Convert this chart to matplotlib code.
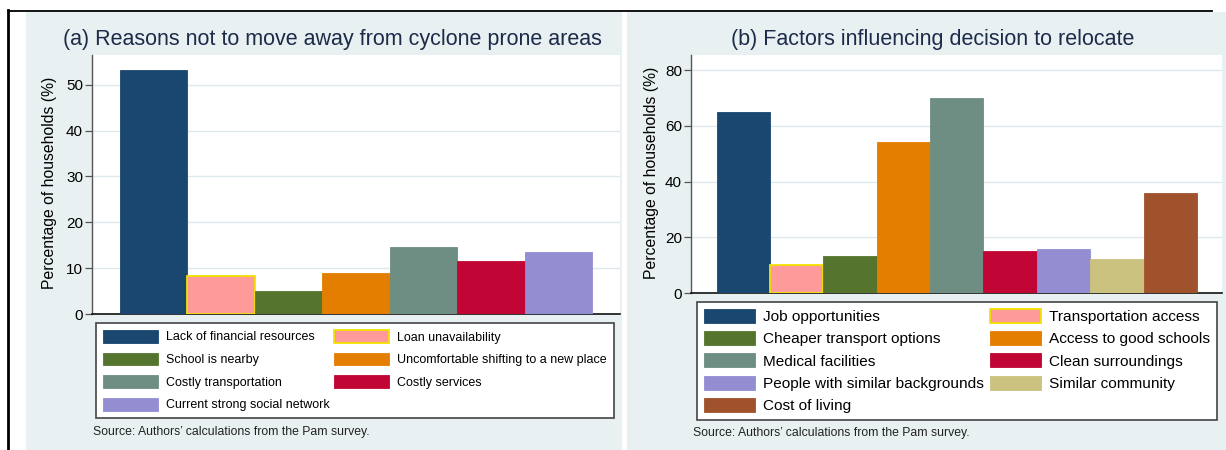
import matplotlib
matplotlib.use("Agg")
import matplotlib.pyplot as plt
from matplotlib.patches import Rectangle, Patch
from matplotlib.lines import Line2D

plt.rcParams['font.family'] = ['Liberation Sans', 'DejaVu Sans']

# ---------------- data ----------------
reasons_a = ["Lack of financial resources", "Loan unavailability", "School is nearby",
             "Uncomfortable shifting to a new place", "Costly transportation",
             "Costly services", "Current strong social network"]
values_a = [53.3, 8.2, 5.1, 9.0, 14.7, 11.6, 13.6]
colors_a = ["#1a476f", "#ff9a9a", "#55752f", "#e37e00", "#6e8e84", "#c10534", "#938dd2"]
yticks_a = [0, 10, 20, 30, 40, 50]

factors_b = ["Job opportunities", "Transportation access", "Cheaper transport options",
             "Access to good schools", "Medical facilities", "Clean surroundings",
             "People with similar backgrounds", "Similar community", "Cost of living"]
values_b = [64.9, 10.1, 13.4, 54.3, 70.0, 15.0, 15.9, 12.3, 36.0]
colors_b = ["#1a476f", "#ff9a9a", "#55752f", "#e37e00", "#6e8e84", "#c10534",
            "#938dd2", "#cac27e", "#a0522d"]
yticks_b = [0, 20, 40, 60, 80]

title_a = "(a) Reasons not to move away from cyclone prone areas"
title_b = "(b) Factors influencing decision to relocate"
ylabel = "Percentage of households (%)"
source = "Source: Authors\u2019 calculations from the Pam survey."

# ---------------- layout helpers (pixels) ----------------
W, H = 1226, 450
fig = plt.figure(figsize=(W / 100, H / 100), dpi=100)
fig.patch.set_facecolor("white")

def fx(px):
    return px / W

def fy(py):
    return 1 - py / H

def rect(x0, y0, x1, y1):
    return [fx(x0), fy(y1), fx(x1) - fx(x0), fy(y0) - fy(y1)]

BG = "#e9f0f2"
GRID = "#dfe8eb"
TITLE_C = "#1c2b4a"

# panel backgrounds (behind the axes)
fig.patches.append(Rectangle((fx(26), fy(450)), fx(622) - fx(26), fy(12) - fy(450),
                             transform=fig.transFigure, facecolor=BG, edgecolor="none", zorder=-5))
fig.patches.append(Rectangle((fx(627), fy(450)), fx(1226) - fx(627), fy(12) - fy(450),
                             transform=fig.transFigure, facecolor=BG, edgecolor="none", zorder=-5))
# frame lines
fig.lines.append(Line2D([fx(8), fx(8)], [fy(10), fy(450)], transform=fig.transFigure,
                        color="black", lw=2.0, zorder=-4))
fig.lines.append(Line2D([fx(8), fx(1212)], [fy(10.5), fy(10.5)], transform=fig.transFigure,
                        color="black", lw=1.3, zorder=-4))


def draw_panel(axrect, names, values, colors, yticks, ylim, xlim, title, title_xy,
               ylabel_xy, leg_box, leg_fs, handlelength, handleheight, labelspacing,
               textpad, borderpad, order, source_xy):
    ax = fig.add_axes(rect(*axrect))
    ax.set_facecolor("white")
    xs = list(range(len(values)))
    bars = ax.bar(xs, values, width=1.0, color=colors, edgecolor=colors, linewidth=0.6, zorder=3)
    for b, n in zip(bars, names):
        b.set_label(n)
    # pink bar has a yellow outline
    bars[1].set_edgecolor("#f2e200")
    bars[1].set_linewidth(1.3)
    ax.set_xlim(*xlim)
    ax.set_ylim(*ylim)
    ax.set_yticks(yticks)
    ax.set_yticklabels([str(t) for t in yticks])
    ax.set_xticks([])
    ax.yaxis.grid(True, color=GRID, lw=1.0, zorder=0)
    ax.set_axisbelow(True)
    for s in ("top", "right"):
        ax.spines[s].set_visible(False)
    ax.spines["left"].set_color("#555555")
    ax.spines["left"].set_linewidth(1.0)
    ax.spines["bottom"].set_color("#111111")
    ax.spines["bottom"].set_linewidth(1.2)
    ax.tick_params(axis="y", length=5, width=0.9, color="#555555", pad=1.5,
                   labelsize=11, labelcolor="black")
    ax.set_ylabel(ylabel, fontsize=11.3, color="black", va="center")
    ax.yaxis.set_label_coords(*ylabel_xy, transform=fig.transFigure)

    fig.text(fx(title_xy[0]), fy(title_xy[1]), title, ha="center", va="center",
             fontsize=15.5, color=TITLE_C)

    handles = [Patch(facecolor=c, edgecolor=("#f2e200" if i == 1 else c),
                     linewidth=(1.3 if i == 1 else 0.6)) for i, c in enumerate(colors)]
    h_ord = [handles[i] for i in order]
    l_ord = [names[i] for i in order]
    x0, y0, x1, y1 = leg_box
    leg = fig.legend(h_ord, l_ord, ncol=2, mode="expand",
                     bbox_to_anchor=(fx(x0), fy(y1), fx(x1) - fx(x0), fy(y0) - fy(y1)),
                     bbox_transform=fig.transFigure, loc="upper left",
                     fontsize=leg_fs, frameon=True, fancybox=False, shadow=False,
                     handlelength=handlelength, handleheight=handleheight,
                     labelspacing=labelspacing, handletextpad=textpad, borderpad=borderpad,
                     borderaxespad=0.0, columnspacing=1.0)
    fr = leg.get_frame()
    fr.set_edgecolor("#444444")
    fr.set_linewidth(1.2)
    fr.set_facecolor("white")
    fr.set_alpha(1.0)

    fig.text(fx(source_xy[0]), fy(source_xy[1]), source, ha="left", va="center",
             fontsize=8.8, color="#222222")
    return ax


draw_panel(axrect=(92, 55, 620, 314), names=reasons_a, values=values_a, colors=colors_a,
           yticks=yticks_a, ylim=(0, 56.5), xlim=(-0.915, 6.91), title=title_a,
           title_xy=(332, 39), ylabel_xy=(fx(50), fy(183)),
           leg_box=(96, 323, 614, 417), leg_fs=9.0, handlelength=4.4, handleheight=1.2,
           labelspacing=0.72, textpad=0.65, borderpad=0.55,
           order=[0, 2, 4, 6, 1, 3, 5], source_xy=(93, 432))

draw_panel(axrect=(691, 55, 1222, 293.3), names=factors_b, values=values_b, colors=colors_b,
           yticks=yticks_b, ylim=(0, 85.4), xlim=(-0.98, 8.97), title=title_b,
           title_xy=(933, 39), ylabel_xy=(fx(652), fy(173)),
           leg_box=(697, 302, 1217, 417), leg_fs=11.1, handlelength=3.3, handleheight=1.0,
           labelspacing=0.46, textpad=0.5, borderpad=0.45,
           order=[0, 2, 4, 6, 8, 1, 3, 5, 7], source_xy=(693, 433))

fig.savefig("out.png", dpi=100, facecolor=fig.get_facecolor())
